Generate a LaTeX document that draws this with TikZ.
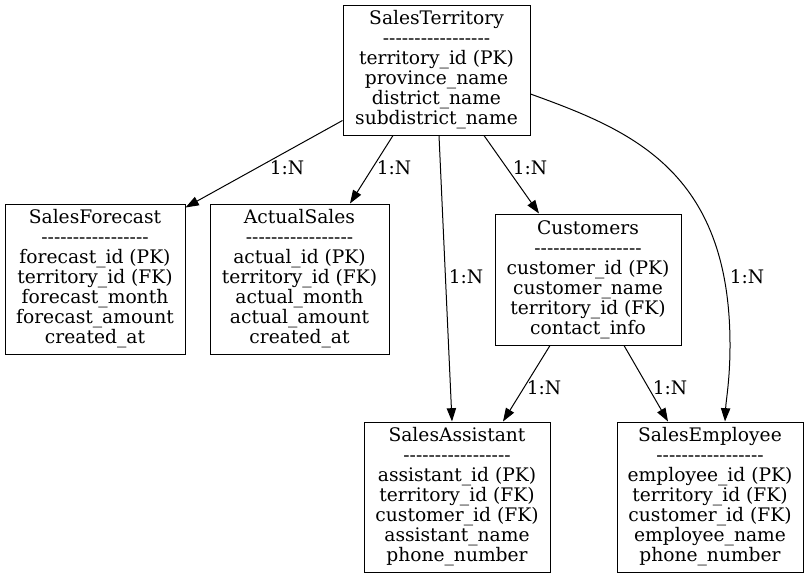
\documentclass[tikz,border=0pt]{standalone}
\usepackage{fontspec}
\setmainfont{DejaVu Serif}[Ligatures=TeXOff]
\usetikzlibrary{arrows.meta,calc}
\newcommand\hy{\hbox{-}}
\newcommand\dashrow{\hy\hy\hy\hy\hy\hy\hy\hy\hy\hy\hy\hy\hy\hy\hy\hy\hy}
\tikzset{
  entity/.style={draw=black, line width=0.75pt, rectangle, inner sep=0pt, align=center,
    font=\fontsize{14pt}{15pt}\selectfont},
  rel/.style={draw=black, line width=0.75pt, -{Triangle[length=10pt,width=7pt]}},
  lbl/.style={inner sep=0pt, font=\fontsize{14pt}{15pt}\selectfont}
}
\begin{document}
\begin{tikzpicture}[x=0.75pt,y=-0.75pt]
\useasboundingbox (0,0) rectangle (809,579);
\fill[white] (0,0) rectangle (809,579);

\node[entity, minimum width=140.25pt, minimum height=97.5pt] (st) at (436.5,70)
  {SalesTerritory\\\dashrow\\territory\_id (PK)\\province\_name\\district\_name\\subdistrict\_name};
\node[entity, minimum width=135pt, minimum height=112.5pt] (sf) at (95,279)
  {SalesForecast\\\dashrow\\forecast\_id (PK)\\territory\_id (FK)\\forecast\_month\\forecast\_amount\\created\_at};
\node[entity, minimum width=134.25pt, minimum height=112.5pt] (as) at (299.5,279)
  {ActualSales\\\dashrow\\actual\_id (PK)\\territory\_id (FK)\\actual\_month\\actual\_amount\\created\_at};
\node[entity, minimum width=139.5pt, minimum height=98.25pt] (cu) at (588,279.5)
  {Customers\\\dashrow\\customer\_id (PK)\\customer\_name\\territory\_id (FK)\\contact\_info};
\node[entity, minimum width=139.5pt, minimum height=112.5pt] (sa) at (457,497)
  {SalesAssistant\\\dashrow\\assistant\_id (PK)\\territory\_id (FK)\\customer\_id (FK)\\assistant\_name\\phone\_number};
\node[entity, minimum width=139.5pt, minimum height=112.5pt] (se) at (710,497)
  {SalesEmployee\\\dashrow\\employee\_id (PK)\\territory\_id (FK)\\customer\_id (FK)\\employee\_name\\phone\_number};

% connectors
\draw[rel] ($(st.south west)+(0,-15)$) -- ($(sf.north east)+(0,4)$);
\draw[rel] ($(st.south)+(-43.5,0)$) -- ($(as.north)+(50.5,0)$);
\draw[rel] ($(st.south)+(2.5,0)$) -- ($(sa.north)+(-5,0)$);
\draw[rel] ($(st.south)+(47.5,0)$) -- ($(cu.north)+(-49,0)$);
\draw[rel] ($(st.east)+(0,24)$) .. controls (630,130) and (730,170) .. (730,345)
   .. controls (730,380) and (726,400) .. ($(se.north)+(15,0)$);
\draw[rel] ($(cu.south)+(-38,0)$) -- ($(sa.north)+(46,0)$);
\draw[rel] ($(cu.south)+(36,0)$) -- ($(se.north)+(-42,0)$);

% labels
\node[lbl] (l1) at (287,168) {1:N};
\node[lbl] (l2) at (394,168) {1:N};
\node[lbl] (l3) at (466,277) {1:N};
\node[lbl] (l4) at (530,168) {1:N};
\node[lbl] (l5) at (747,277) {1:N};
\node[lbl] (l6) at (544,388) {1:N};
\node[lbl] (l7) at (670,388) {1:N};
\end{tikzpicture}
\end{document}
